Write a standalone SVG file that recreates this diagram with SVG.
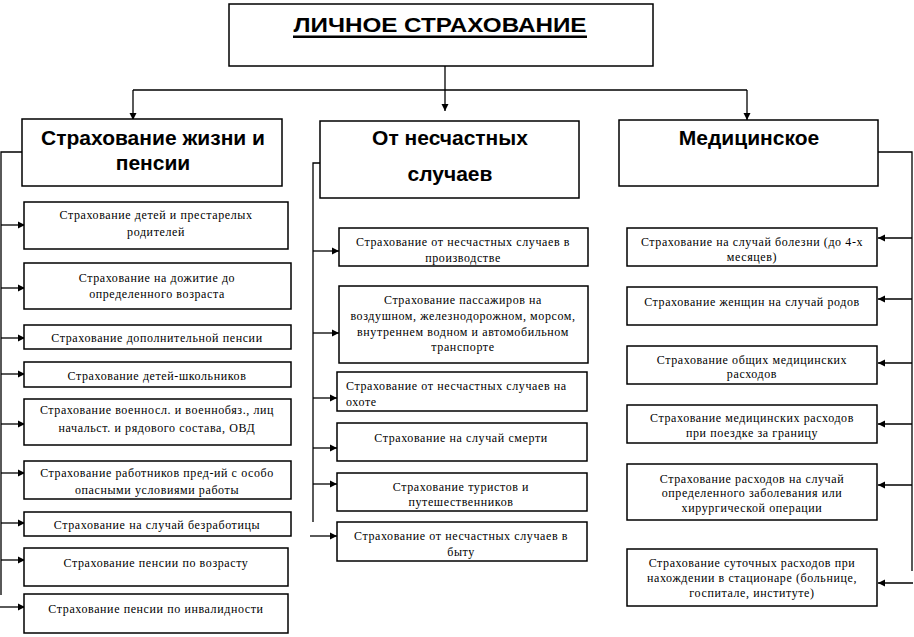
<svg xmlns="http://www.w3.org/2000/svg" width="914" height="637" viewBox="0 0 914 637">
<defs>
<style>
.box{fill:#fff;stroke:#000;stroke-width:1.5}
.t{font-family:"Liberation Serif","Times New Roman",serif;font-size:12px;letter-spacing:0.6px;text-anchor:middle;fill:#000}
.tl{text-anchor:start}
.h{font-family:"Liberation Sans",Arial,sans-serif;font-weight:bold;font-size:21px;text-anchor:middle;fill:#000}
.ti{font-family:"Liberation Sans",Arial,sans-serif;font-weight:bold;font-size:21px;text-anchor:middle;fill:#000}
.c{stroke:#000;stroke-width:1.3;fill:none}
.a{stroke:#000;stroke-width:1.3;fill:none;marker-end:url(#ah)}
</style>
<marker id="ah" markerUnits="userSpaceOnUse" markerWidth="8" markerHeight="8" refX="7" refY="4" orient="auto">
<path d="M0,0.5 L7,4 L0,7.5 z" fill="#000"/>
</marker>
</defs>
<rect width="914" height="637" fill="#fff"/>

<g id="connectors">
<path class="c" d="M133,90 H747"/>
<path class="a" d="M445,66 V111"/>
<path class="a" d="M133,90 V120"/>
<path class="a" d="M747,90 V120"/>
<path class="c" d="M22,152 H1 V595"/>
<path class="a" d="M1,225 H25"/>
<path class="a" d="M1,288 H25"/>
<path class="a" d="M1,338 H25"/>
<path class="a" d="M1,374 H25"/>
<path class="a" d="M1,424 H25"/>
<path class="a" d="M1,473 H25"/>
<path class="a" d="M1,523 H25"/>
<path class="a" d="M1,560 H25"/>
<path class="a" d="M0,607 H25"/>
<path class="c" d="M320,163 H313 V522"/>
<path class="a" d="M313,251 H339"/>
<path class="a" d="M313,333 H339"/>
<path class="a" d="M313,398 H337"/>
<path class="a" d="M313,448 H337"/>
<path class="a" d="M313,484 H337"/>
<path class="a" d="M310,536 H337"/>
<path class="c" d="M878,152 H912 V571"/>
<path class="a" d="M912,238 H878"/>
<path class="a" d="M912,299 H878"/>
<path class="a" d="M912,363 H878"/>
<path class="a" d="M912,424 H878"/>
<path class="a" d="M912,485 H878"/>
<path class="a" d="M913,583 H878"/>
</g>

<g id="root">
<rect class="box" x="229" y="4" width="424" height="62"/>
<text class="ti" x="440" y="32" textLength="293" lengthAdjust="spacingAndGlyphs">ЛИЧНОЕ СТРАХОВАНИЕ</text>
<rect x="293" y="35.5" width="294" height="2.5" fill="#000"/>
</g>

<g id="life">
<rect class="box" x="22" y="119" width="260" height="67"/>
<text class="h" x="153" y="145">Страхование жизни и</text>
<text class="h" x="153" y="170">пенсии</text>
</g>
<g id="accident">
<rect class="box" x="320" y="121" width="259" height="77"/>
<text class="h" x="450" y="145">От несчастных</text>
<text class="h" x="450" y="181">случаев</text>
</g>
<g id="medical">
<rect class="box" x="619" y="120" width="259" height="66"/>
<text class="h" x="749" y="145">Медицинское</text>
</g>

<g id="l1"><rect class="box" x="24" y="202" width="264" height="47"/>
<text class="t" x="156" y="219">Страхование детей и престарелых</text>
<text class="t" x="156" y="236">родителей</text></g>
<g id="l2"><rect class="box" x="24" y="263" width="267" height="46"/>
<text class="t" x="157" y="282">Страхование на дожитие до</text>
<text class="t" x="157" y="298">определенного возраста</text></g>
<g id="l3"><rect class="box" x="24" y="325" width="267" height="24"/>
<text class="t" x="157" y="342">Страхование дополнительной пенсии</text></g>
<g id="l4"><rect class="box" x="24" y="362" width="267" height="25"/>
<text class="t" x="157" y="380">Страхование детей-школьников</text></g>
<g id="l5"><rect class="box" x="24" y="399" width="267" height="46"/>
<text class="t" x="157" y="414">Страхование военносл. и военнобяз., лиц</text>
<text class="t" x="157" y="432">начальст. и рядового состава, ОВД</text></g>
<g id="l6"><rect class="box" x="24" y="461" width="267" height="38"/>
<text class="t" x="157" y="477">Страхование работников пред-ий с особо</text>
<text class="t" x="157" y="494">опасными условиями работы</text></g>
<g id="l7"><rect class="box" x="24" y="512" width="267" height="24"/>
<text class="t" x="157" y="529">Страхование на случай безработицы</text></g>
<g id="l8"><rect class="box" x="24" y="548" width="264" height="38"/>
<text class="t" x="156" y="567">Страхование пенсии по возрасту</text></g>
<g id="l9"><rect class="box" x="24" y="594" width="264" height="39"/>
<text class="t" x="156" y="613">Страхование пенсии по инвалидности</text></g>

<g id="m1"><rect class="box" x="339" y="228" width="249" height="38"/>
<text class="t" x="463" y="246">Страхование от несчастных случаев в</text>
<text class="t" x="463" y="262">производстве</text></g>
<g id="m2"><rect class="box" x="339" y="286" width="249" height="77"/>
<text class="t" x="463" y="304">Страхование пассажиров на</text>
<text class="t" x="463" y="320">воздушном, железнодорожном, морсом,</text>
<text class="t" x="463" y="336">внутреннем водном и автомобильном</text>
<text class="t" x="463" y="351">транспорте</text></g>
<g id="m3"><rect class="box" x="337" y="372" width="250" height="39"/>
<text class="t tl" x="346" y="390">Страхование от несчастных случаев на</text>
<text class="t tl" x="346" y="406">охоте</text></g>
<g id="m4"><rect class="box" x="337" y="423" width="250" height="38"/>
<text class="t" x="461" y="442">Страхование на случай смерти</text></g>
<g id="m5"><rect class="box" x="337" y="473" width="250" height="38"/>
<text class="t" x="461" y="491">Страхование туристов и</text>
<text class="t" x="461" y="506">путешественников</text></g>
<g id="m6"><rect class="box" x="337" y="522" width="250" height="39"/>
<text class="t" x="461" y="540">Страхование от несчастных случаев в</text>
<text class="t" x="461" y="556">быту</text></g>

<g id="r1"><rect class="box" x="627" y="228" width="250" height="38"/>
<text class="t" x="752" y="246">Страхование на случай болезни (до 4-х</text>
<text class="t" x="752" y="261">месяцев)</text></g>
<g id="r2"><rect class="box" x="627" y="287" width="250" height="38"/>
<text class="t" x="752" y="306">Страхование женщин на случай родов</text></g>
<g id="r3"><rect class="box" x="627" y="346" width="250" height="38"/>
<text class="t" x="752" y="364">Страхование общих медицинских</text>
<text class="t" x="752" y="378">расходов</text></g>
<g id="r4"><rect class="box" x="627" y="405" width="250" height="38"/>
<text class="t" x="752" y="422">Страхование медицинских расходов</text>
<text class="t" x="752" y="437">при поездке за границу</text></g>
<g id="r5"><rect class="box" x="627" y="464" width="250" height="56"/>
<text class="t" x="752" y="483">Страхование расходов на случай</text>
<text class="t" x="752" y="497">определенного заболевания или</text>
<text class="t" x="752" y="512">хирургической операции</text></g>
<g id="r6"><rect class="box" x="627" y="549" width="250" height="57"/>
<text class="t" x="752" y="567">Страхование суточных расходов при</text>
<text class="t" x="752" y="582">нахождении в стационаре (больнице,</text>
<text class="t" x="752" y="597">госпитале, институте)</text></g>
</svg>
